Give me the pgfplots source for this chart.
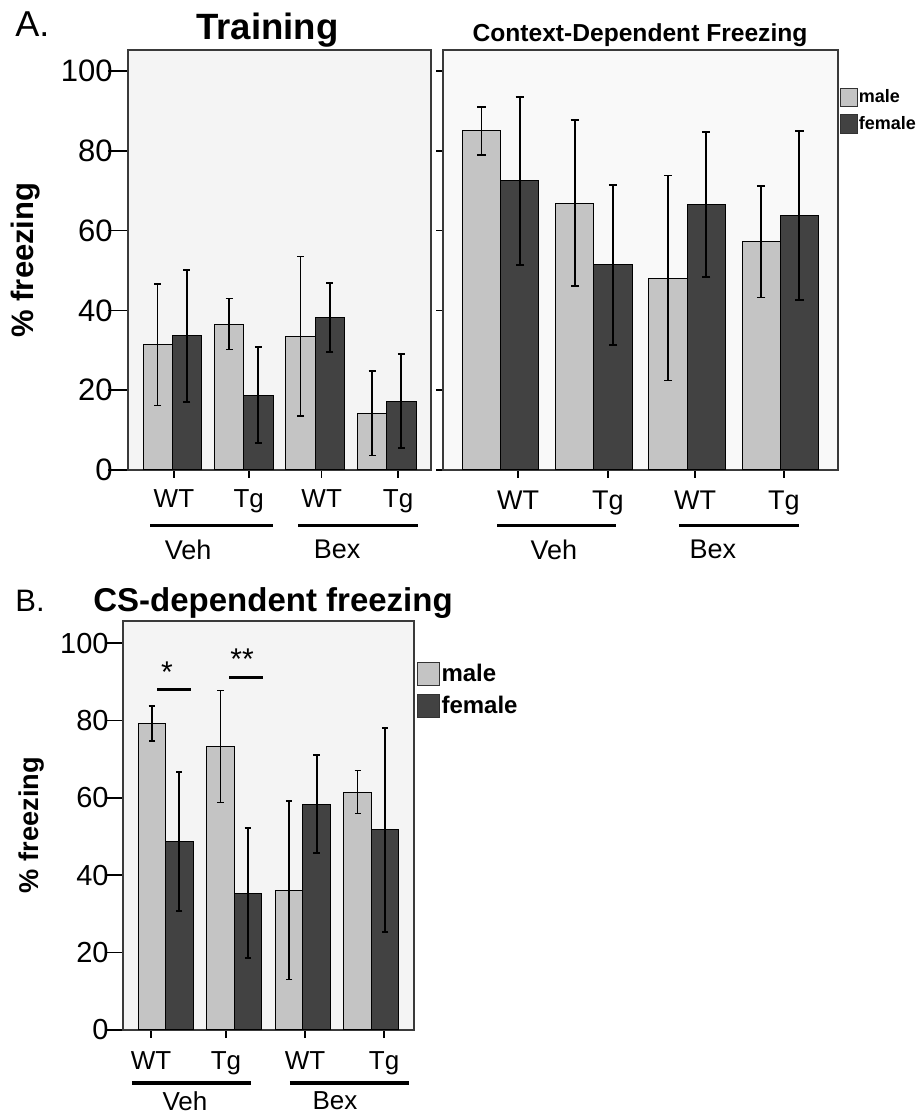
\documentclass[border=0pt]{standalone}
\usepackage{fontspec}
\setmainfont{Liberation Sans}
\usepackage{pgfplots}
\pgfplotsset{compat=1.18}
\newcommand{\fs}[1]{\fontsize{#1}{#1}\selectfont}
\definecolor{malegray}{HTML}{C4C4C4}
\definecolor{femgray}{HTML}{424242}
\definecolor{bgA}{HTML}{F4F4F4}
\definecolor{bgC}{HTML}{F9F9F9}
\definecolor{frame}{HTML}{3A3A3A}
\pgfplotsset{
  frz/.style={
    scale only axis, ybar, bar shift=0pt,
    xmin=-0.62, xmax=3.62, ymin=0,
    clip=false,
    axis line style={draw=frame, line width=0.9pt},
    tick style={black, line width=0.8pt},
    tick align=outside,
    xtick pos=bottom, ytick pos=left,
    ytick={0,20,40,60,80,100},
    /pgf/number format/assume math mode=true,
    xticklabels={WT,Tg,WT,Tg},
  },
  mbar/.style={fill=malegray, draw=black, line width=0.5pt},
  fbar/.style={fill=femgray, draw=black, line width=0.5pt},
  eb/.style 2 args={error bars/.cd, y dir=both, y explicit,
    error bar style={black, line width=#2},
    error mark=-,
    error mark options={black, line width=#2, mark size=#1, rotate=90}},
}
\begin{document}
\begin{tikzpicture}
\path[use as bounding box] (0,0) rectangle (461pt,556.5pt);

% ---------------- Training ----------------
\begin{axis}[frz,
  at={(64pt,321.5pt)}, anchor=south west,
  width=151.5pt, height=210pt, ymax=105.3,
  bar width=0.41,
  axis background/.style={fill=bgA},
  major tick length=10pt,
  xtick style={/pgfplots/major tick length=4pt},
  xtick={0.023,1.07,2.09,3.16},
  yticklabel style={font=\fs{15.5}, anchor=east, inner sep=0pt, xshift=2.5pt},
  xticklabel style={font=\fs{13}, anchor=north, inner sep=0pt, yshift=0.4pt},
]
\addplot[mbar, eb={1.75pt}{0.7pt}] coordinates {
  (-0.205,31.4) +- (0,15.2)
  (0.795,36.6) +- (0,6.4)
  (1.795,33.5) +- (0,20.0)
  (2.795,14.2) +- (0,10.6)};
\addplot[fbar, eb={1.75pt}{1.0pt}] coordinates {
  (0.205,33.6) +- (0,16.5)
  (1.205,18.8) +- (0,12.1)
  (2.205,38.3) +- (0,8.7)
  (3.205,17.2) +- (0,11.8)};
\draw[line width=1.6pt] (axis cs:-0.312,-14) -- (axis cs:1.409,-14);
\draw[line width=1.6pt] (axis cs:1.759,-14) -- (axis cs:3.438,-14);
\node[font=\fs{13.5}] at (axis cs:0.22,-20) {Veh};
\node[font=\fs{13.5}] at (axis cs:2.305,-20) {Bex};
\end{axis}

% ---------------- Context ----------------
\begin{axis}[frz,
  at={(221.5pt,321.5pt)}, anchor=south west,
  width=197.5pt, height=210pt, ymax=105.3,
  bar width=0.41,
  axis background/.style={fill=bgC},
  major tick length=3.5pt,
  xtick style={/pgfplots/major tick length=4pt},
  xtick={0.185,1.151,2.085,3.04},
  yticklabels={},
  xticklabel style={font=\fs{13.5}, anchor=north, inner sep=0pt, yshift=-6.9pt},
  legend style={at={(1.004,0.9095)}, anchor=north west, draw=none, fill=none,
    inner sep=0pt, outer sep=0pt, row sep=3.5pt,
    font=\bfseries\fs{9}, nodes={inner sep=0.6pt}},
  legend cell align=left,
  legend image code/.code={\draw[#1, draw=black!80, line width=0.5pt] (0pt,-4.6pt) rectangle (8.5pt,4.6pt);},
]
\addplot[mbar, eb={2.1pt}{0.7pt}] coordinates {
  (-0.205,85.0) +- (0,6.0)
  (0.795,66.9) +- (0,20.8)
  (1.795,48.1) +- (0,25.7)
  (2.795,57.2) +- (0,14.0)};
\addplot[fbar, eb={2.1pt}{1.0pt}] coordinates {
  (0.205,72.5) +- (0,21.0)
  (1.205,51.4) +- (0,20.0)
  (2.205,66.6) +- (0,18.2)
  (3.205,63.9) +- (0,21.2)};
\legend{male,female}
\draw[line width=1.6pt] (axis cs:-0.04,-14) -- (axis cs:1.237,-14);
\draw[line width=1.6pt] (axis cs:1.913,-14) -- (axis cs:3.201,-14);
\node[font=\fs{13.5}] at (axis cs:0.571,-20) {Veh};
\node[font=\fs{13.5}] at (axis cs:2.278,-20) {Bex};
\end{axis}

% ---------------- CS-dependent ----------------
\begin{axis}[frz,
  at={(61.5pt,41.5pt)}, anchor=south west,
  width=145.5pt, height=204.5pt, ymax=105.7,
  bar width=0.40,
  axis background/.style={fill=bgA},
  major tick length=9pt,
  xtick style={/pgfplots/major tick length=4pt},
  xtick={-0.212,0.881,2.033,3.185},
  yticklabel style={font=\fs{14.5}, anchor=east, inner sep=0pt, xshift=2pt},
  xticklabel style={font=\fs{13}, anchor=north, inner sep=0pt, yshift=-1.4pt},
  legend style={at={(1.01,0.9)}, anchor=north west, draw=none, fill=none,
    inner sep=0pt, outer sep=0pt, row sep=4pt,
    font=\bfseries\fs{12}, nodes={inner sep=0.8pt}},
  legend cell align=left,
  legend image code/.code={\draw[#1, draw=black!80, line width=0.5pt] (0pt,-5.75pt) rectangle (11pt,5.75pt);},
]
\addplot[mbar, eb={1.6pt}{0.7pt}] coordinates {
  (-0.2,79.2) +- (0,4.5)
  (0.8,73.3) +- (0,14.5)
  (1.8,36.1) +- (0,23.1)
  (2.8,61.5) +- (0,5.5)};
\addplot[fbar, eb={1.6pt}{1.0pt}] coordinates {
  (0.2,48.8) +- (0,18.0)
  (1.2,35.4) +- (0,16.8)
  (2.2,58.4) +- (0,12.7)
  (3.2,51.7) +- (0,26.4)};
\legend{male,female}
\draw[line width=1.6pt] (axis cs:-0.124,87.9) -- (axis cs:0.371,87.9);
\draw[line width=1.6pt] (axis cs:0.925,91.2) -- (axis cs:1.42,91.2);
\node[font=\fs{15}] at (axis cs:0.02,92.6) {*};
\node[font=\fs{15}] at (axis cs:1.115,95.9) {**};
\draw[line width=1.6pt] (axis cs:-0.489,-13.7) -- (axis cs:1.245,-13.7);
\draw[line width=1.6pt] (axis cs:1.813,-13.7) -- (axis cs:3.547,-13.7);
\node[font=\fs{13}] at (axis cs:0.283,-18.3) {Veh};
\node[font=\fs{13}] at (axis cs:2.469,-18.3) {Bex};
\end{axis}

% ---------------- titles and labels ----------------
\node[anchor=base west, font=\fs{18}, inner sep=0pt] at (7.5pt,538pt) {A.};
\node[anchor=base, font=\bfseries\fs{18.3}, inner sep=0pt] at (133.75pt,536.5pt) {Training};
\node[anchor=base, font=\bfseries\fs{12.3}, inner sep=0pt] at (320pt,535.5pt) {Context-Dependent Freezing};
\node[rotate=90, font=\bfseries\fs{15.5}, inner sep=0pt] at (13pt,426.5pt) {\% freezing};
\node[anchor=base west, font=\fs{15.5}, inner sep=0pt] at (7.5pt,250.5pt) {B.};
\node[anchor=base west, font=\bfseries\fs{16.5}, inner sep=0pt] at (46.5pt,250.5pt) {CS-dependent freezing};
\node[rotate=90, font=\bfseries\fs{13.6}, inner sep=0pt] at (16pt,144pt) {\% freezing};
\end{tikzpicture}
\end{document}
